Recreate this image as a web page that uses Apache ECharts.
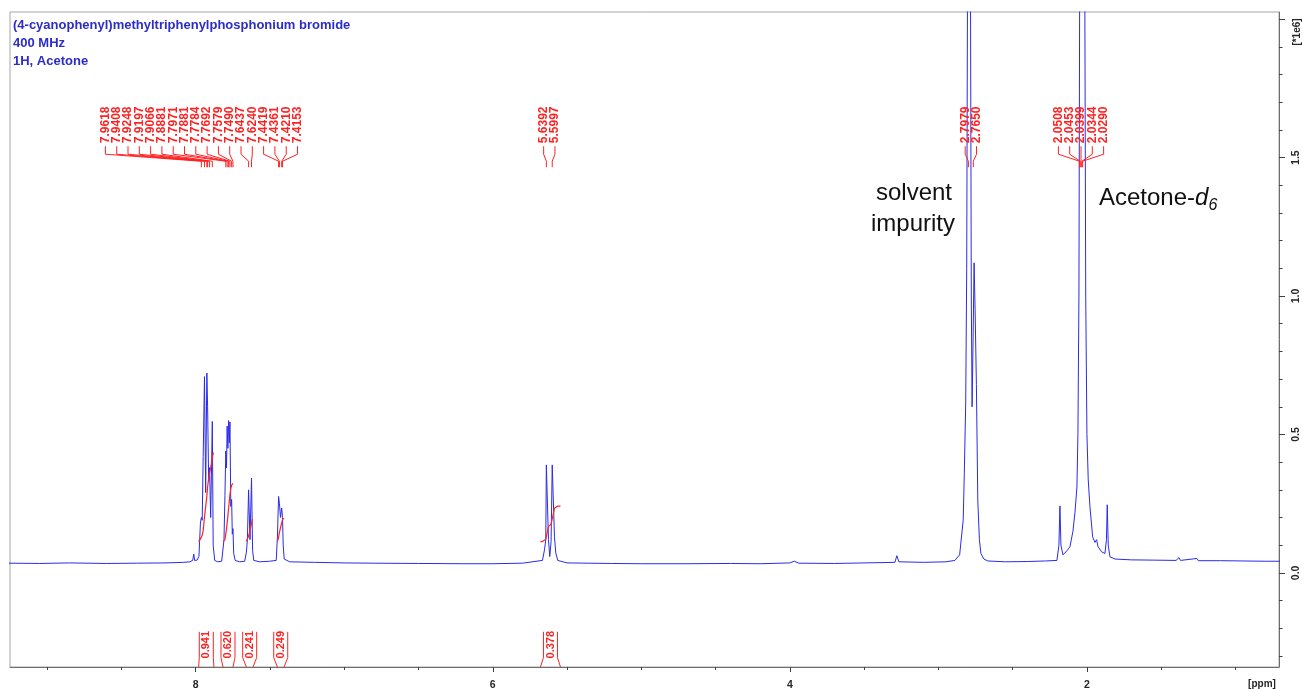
<!DOCTYPE html>
<html>
<head>
<meta charset="utf-8">
<script src="https://cdn.jsdelivr.net/npm/echarts@6/dist/echarts.min.js"></script>
<style>
  html, body { margin: 0; padding: 0; background: #ffffff; }
  #chart { width: 1302px; height: 689px; }
</style>
</head>
<body>
<div id="chart"></div>
<script>
// 1H NMR spectrum of (4-cyanophenyl)methyltriphenylphosphonium bromide, 400 MHz, acetone-d6
// intensity is given in units of 1e6

const titleLines = ['(4-cyanophenyl)methyltriphenylphosphonium bromide', '400 MHz', '1H, Acetone'];

// chemical shift (ppm) and intensity (x1e6) of the trace, read left to right
const shiftPpm = [
  9.26, 9.05, 8.85, 8.6, 8.4, 8.2, 8.08, 8.040, 8.020, 8.013, 8.007, 7.990,
  7.978, 7.968, 7.9618, 7.956, 7.9495, 7.9408, 7.9327, 7.9248, 7.9197, 7.9125, 7.9066, 7.899,
  7.8881, 7.8822, 7.872, 7.852, 7.825,
  7.8094, 7.803, 7.7971, 7.7926, 7.7881, 7.7832, 7.7784, 7.7737, 7.7692, 7.7636, 7.7579, 7.7535,
  7.7490, 7.7441, 7.734, 7.704, 7.670,
  7.6586, 7.6519, 7.6437, 7.6343, 7.6240, 7.6168, 7.609, 7.569, 7.502, 7.458,
  7.4498, 7.4419, 7.4361, 7.4290, 7.4210, 7.4153, 7.4108, 7.404, 7.367,
  7.2, 7.0, 6.8, 6.5, 6.2, 6.0, 5.8,
  5.6653, 5.6519, 5.6431, 5.6392, 5.6249, 5.6162, 5.6074, 5.5997, 5.5845, 5.5758, 5.5623,
  5.5, 5.2, 5.0, 4.7, 4.4, 4.2, 4.0, 3.97, 3.94, 3.7, 3.5, 3.293, 3.2795, 3.266, 3.1, 2.95,
  2.889, 2.857, 2.8330, 2.8256, 2.8162, 2.8094, 2.8040, 2.7973, 2.7892, 2.7838, 2.7785, 2.7731,
  2.7663, 2.7596, 2.7529, 2.7441, 2.7347, 2.7239, 2.7138, 2.6936, 2.6667, 2.55, 2.4, 2.28,
  2.2020, 2.1886, 2.1818, 2.1751, 2.1616, 2.1347, 2.1145, 2.0943, 2.0808, 2.0673, 2.0606, 2.0539,
  2.0485, 2.0404, 2.0236, 2.0148, 2.0081, 2.0000, 1.9912, 1.9798, 1.9616, 1.9461, 1.9347, 1.9259,
  1.9010, 1.8788, 1.8687, 1.8633, 1.8566, 1.8451, 1.8114, 1.7, 1.55, 1.4, 1.3805, 1.37,
  1.2593, 1.25, 1.1, 0.95, 0.8, 0.70
];
const intensity = [
  0.035, 0.034, 0.036, 0.034, 0.035, 0.036, 0.038, 0.040, 0.045, 0.068, 0.045, 0.046,
  0.06, 0.18, 0.20, 0.19, 0.42, 0.709, 0.29, 0.722, 0.60, 0.33, 0.38, 0.20,
  0.547, 0.10, 0.045, 0.040, 0.042,
  0.12, 0.28, 0.44, 0.38, 0.53, 0.45, 0.55, 0.47, 0.545, 0.24, 0.265, 0.14,
  0.16, 0.07, 0.045, 0.040, 0.042,
  0.075, 0.12, 0.30, 0.12, 0.342, 0.08, 0.045, 0.040, 0.042, 0.045,
  0.13, 0.276, 0.25, 0.20, 0.234, 0.20, 0.10, 0.050, 0.040,
  0.038, 0.036, 0.035, 0.034, 0.033, 0.033, 0.035,
  0.045, 0.083, 0.12, 0.39, 0.12, 0.059, 0.113, 0.39, 0.13, 0.072, 0.045,
  0.036, 0.034, 0.033, 0.033, 0.034, 0.033, 0.036, 0.042, 0.035, 0.034, 0.036, 0.038, 0.062, 0.040, 0.038, 0.040,
  0.045, 0.065, 0.19, 0.36, 0.61, 1.1, 2.1, 5.0, 5.0, 2.1, 1.0, 0.6,
  0.85, 1.12, 0.95, 0.68, 0.26, 0.12, 0.07, 0.05, 0.043, 0.040, 0.041, 0.043,
  0.045, 0.10, 0.242, 0.10, 0.065, 0.08, 0.094, 0.15, 0.217, 0.31, 0.5, 1.0,
  2.2, 8.0, 8.0, 2.2, 1.0, 0.5, 0.336, 0.24, 0.13, 0.11, 0.12, 0.095,
  0.076, 0.07, 0.12, 0.246, 0.10, 0.058, 0.050, 0.047, 0.046, 0.045, 0.055, 0.045,
  0.052, 0.044, 0.044, 0.043, 0.042, 0.042
];

// picked peaks, one list per multiplet
const peakGroups = [
  [7.9618, 7.9408, 7.9248, 7.9197, 7.9066, 7.8881, 7.7971, 7.7881, 7.7784, 7.7692, 7.7579, 7.7490],
  [7.6437, 7.6240],
  [7.4419, 7.4361, 7.4210, 7.4153],
  [5.6392, 5.5997],
  [2.7979, 2.7650],
  [2.0508, 2.0453, 2.0399, 2.0344, 2.0290]
];

// integration regions [from, to] in ppm and their integrals
const integralRanges = [[7.980, 7.877], [7.816, 7.749], [7.659, 7.614], [7.450, 7.405], [5.679, 5.544]];
const integralValues = [0.941, 0.620, 0.241, 0.249, 0.378];

// axis ticks
const xMajorTicks = [2, 4, 6, 8];
const xMinorTicks = [1, 1.5, 2.5, 3, 3.5, 4.5, 5, 5.5, 6.5, 7, 7.5, 8.5, 9];
const yMajorTicks = [0, 0.5, 1.0, 1.5, 2.0];
const yLabelTicks = [0, 0.5, 1.0, 1.5];
const yMinorTicks = [-0.3, -0.2, -0.1, 0.1, 0.2, 0.3, 0.4, 0.6, 0.7, 0.8, 0.9, 1.1, 1.2, 1.3, 1.4, 1.6, 1.7, 1.8, 1.9];

const X_MIN = 0.707, X_MAX = 9.25;
const Y_MIN = -0.34, Y_MAX = 2.026;

const BLUE = '#2b2be8';
const RED = '#ff2222';
const FONT = 'Liberation Sans, Arial, sans-serif';

// integral trace: running sum of the trace inside the region, offset and scaled
const INTEGRAL_START = 0.113;
const INTEGRAL_SCALE = 0.3395;
function integralCurve(hi, lo, total) {
  const idx = [];
  for (let i = 0; i < shiftPpm.length; i++) {
    if (shiftPpm[i] <= hi && shiftPpm[i] >= lo) idx.push(i);
  }
  const base = Math.min.apply(null, idx.map(i => intensity[i]));
  const cum = [0];
  for (let k = 1; k < idx.length; k++) {
    const a = idx[k - 1], b = idx[k];
    cum.push(cum[k - 1] + 0.5 * (intensity[a] + intensity[b] - 2 * base) * (shiftPpm[a] - shiftPpm[b]));
  }
  const end = cum[cum.length - 1];
  const rise = total * INTEGRAL_SCALE;
  const pts = [[hi, INTEGRAL_START]];
  idx.forEach((i, k) => pts.push([shiftPpm[i], INTEGRAL_START + cum[k] / end * rise]));
  pts.push([lo, INTEGRAL_START + rise]);
  return pts;
}

// peak labels: each multiplet centred on its peaks, pushed left where they would collide
const LABEL_GAP = 11.3;
function layoutPeakLabels(api) {
  const groups = peakGroups.map(g => {
    const px = g.map(p => api.coord([p, 0])[0]);
    const mean = px.reduce((s, v) => s + v, 0) / px.length;
    return { ppm: g, px: px, first: mean - (g.length - 1) / 2 * LABEL_GAP };
  });
  for (let k = groups.length - 2; k >= 0; k--) {
    const g = groups[k];
    const last = g.first + (g.ppm.length - 1) * LABEL_GAP;
    const limit = groups[k + 1].first - LABEL_GAP;
    if (last > limit) g.first -= (last - limit);
  }
  return groups;
}

function renderPeakLabels(params, api) {
  const yText = api.coord([0, 1.552])[1];
  const children = [];
  layoutPeakLabels(api).forEach(g => {
    g.ppm.forEach((p, i) => {
      const lx = g.first + i * LABEL_GAP;
      children.push({
        type: 'text', x: lx, y: yText, rotation: Math.PI / 2,
        style: { text: p.toFixed(4), font: 'bold 12px ' + FONT, fill: RED,
                 textAlign: 'left', textVerticalAlign: 'middle' }
      });
      children.push({
        type: 'polyline',
        shape: { points: [[lx, yText + 3], [lx, yText + 11], [g.px[i], yText + 18], [g.px[i], yText + 24]] },
        style: { stroke: RED, lineWidth: 1, fill: null }
      });
    });
  });
  return { type: 'group', children: children };
}

function renderIntegralLabels(params, api) {
  const yTop = api.coord([0, -0.213])[1];
  const yKnee = api.coord([0, -0.306])[1];
  const yAxis = api.coord([0, Y_MIN])[1];
  const yMid = (yTop + yKnee) / 2;
  const children = [];
  integralRanges.forEach((r, i) => {
    const x0 = api.coord([r[0], 0])[0];
    const x1 = api.coord([r[1], 0])[0];
    const cx = (x0 + x1) / 2;
    const hw = 7;
    children.push({
      type: 'text', x: cx, y: yMid, rotation: Math.PI / 2,
      style: { text: integralValues[i].toFixed(3), font: 'bold 11px ' + FONT, fill: RED,
               textAlign: 'center', textVerticalAlign: 'middle' }
    });
    children.push({ type: 'polyline', shape: { points: [[cx - hw, yTop], [cx - hw, yKnee], [x0, yAxis]] },
                    style: { stroke: RED, lineWidth: 1, fill: null } });
    children.push({ type: 'polyline', shape: { points: [[cx + hw, yTop], [cx + hw, yKnee], [x1, yAxis]] },
                    style: { stroke: RED, lineWidth: 1, fill: null } });
  });
  return { type: 'group', children: children };
}

const spectrum = shiftPpm.map((x, i) => [x, intensity[i]]);

const integralSeries = integralRanges.map((r, i) => ({
  type: 'line',
  name: 'integral ' + integralValues[i],
  data: integralCurve(r[0], r[1], integralValues[i]),
  showSymbol: false,
  lineStyle: { color: RED, width: 1.2 },
  z: 4,
  silent: true
}));

const chart = echarts.init(document.getElementById('chart'), null, { renderer: 'canvas' });

const axisText = { fontFamily: FONT, fontWeight: 'bold', fontSize: 10.5, color: '#262626' };

chart.setOption({
  animation: false,
  backgroundColor: '#ffffff',
  title: {
    text: titleLines.join('\n'),
    left: 13, top: 16, padding: 0,
    textStyle: { fontFamily: FONT, fontSize: 13, fontWeight: 'bold', color: '#2c2cc8', lineHeight: 18 }
  },
  grid: { left: 10, top: 12, right: 23, bottom: 22, show: true, borderColor: '#a6a6a6', borderWidth: 1,
          containLabel: false, outerBoundsMode: 'none' },
  xAxis: [
    {
      type: 'value', min: X_MIN, max: X_MAX, inverse: true, position: 'bottom',
      splitLine: { show: false },
      axisLine: { show: true, onZero: false, lineStyle: { color: '#6e6e6e', width: 1 } },
      axisTick: { show: true, customValues: xMajorTicks, length: 5, lineStyle: { color: '#404040' } },
      axisLabel: Object.assign({ customValues: xMajorTicks, margin: 13, formatter: v => String(v) }, axisText)
    },
    {
      type: 'value', min: X_MIN, max: X_MAX, inverse: true, position: 'bottom',
      splitLine: { show: false },
      axisLine: { show: false, onZero: false },
      axisTick: { show: true, customValues: xMinorTicks, length: 3, lineStyle: { color: '#404040' } },
      axisLabel: { show: false }
    }
  ],
  yAxis: [
    {
      type: 'value', min: Y_MIN, max: Y_MAX, position: 'right',
      splitLine: { show: false },
      axisLine: { show: true, onZero: false, lineStyle: { color: '#6e6e6e', width: 1 } },
      axisTick: { show: true, customValues: yMajorTicks, length: 6, lineStyle: { color: '#404040' } },
      axisLabel: Object.assign({ customValues: yLabelTicks, rotate: 90, margin: 12,
                                 formatter: v => v.toFixed(1) }, axisText)
    },
    {
      type: 'value', min: Y_MIN, max: Y_MAX, position: 'right',
      splitLine: { show: false },
      axisLine: { show: false, onZero: false },
      axisTick: { show: true, customValues: yMinorTicks, length: 3.5, lineStyle: { color: '#404040' } },
      axisLabel: { show: false }
    }
  ],
  series: [
    {
      type: 'line', name: 'spectrum', data: spectrum,
      showSymbol: false, clip: true,
      lineStyle: { color: BLUE, width: 1 },
      z: 3, silent: true
    }
  ].concat(integralSeries).concat([
    {
      type: 'custom', name: 'peak labels', data: [[5, 1]], clip: false, z: 5, silent: true,
      renderItem: renderPeakLabels
    },
    {
      type: 'custom', name: 'integral labels', data: [[5, 0]], clip: false, z: 5, silent: true,
      renderItem: renderIntegralLabels
    }
  ]),
  graphic: [
    { type: 'text', x: 1297, y: 32, rotation: Math.PI / 2,
      style: { text: '[*1e6]', font: 'bold 10px ' + FONT, fill: '#262626', textAlign: 'center', textVerticalAlign: 'middle' } },
    { type: 'text', x: 1262, y: 684,
      style: { text: '[ppm]', font: 'bold 10px ' + FONT, fill: '#262626', textAlign: 'center', textVerticalAlign: 'middle' } },
    { type: 'text', x: 914, y: 193,
      style: { text: 'solvent', font: '24px ' + FONT, fill: '#111111', textAlign: 'center', textVerticalAlign: 'middle' } },
    { type: 'text', x: 913, y: 224,
      style: { text: 'impurity', font: '24px ' + FONT, fill: '#111111', textAlign: 'center', textVerticalAlign: 'middle' } },
    { type: 'text', x: 1099, y: 182,
      style: {
        text: '{a|Acetone-}{b|d}{c|6}',
        rich: {
          a: { fontFamily: FONT, fontSize: 24, fill: '#111111', lineHeight: 32 },
          b: { fontFamily: FONT, fontSize: 24, fontStyle: 'italic', fill: '#111111', lineHeight: 32 },
          c: { fontFamily: FONT, fontSize: 16, fontStyle: 'italic', fill: '#111111', lineHeight: 16, verticalAlign: 'bottom' }
        }
      } }
  ]
});
</script>
</body>
</html>
